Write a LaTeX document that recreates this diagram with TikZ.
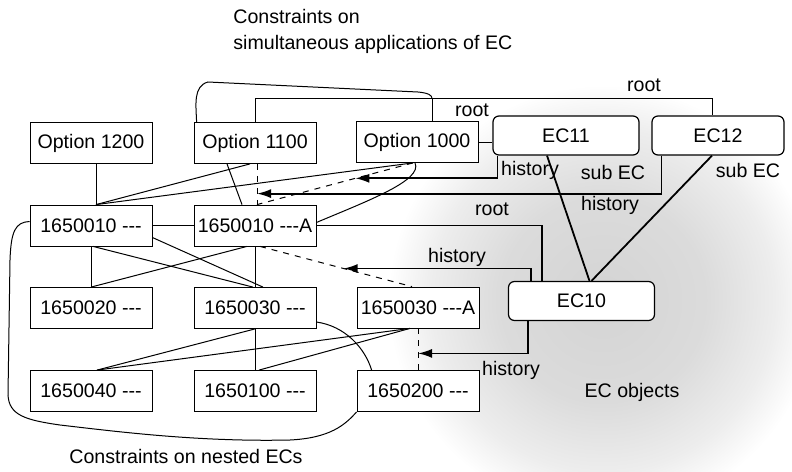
\documentclass[tikz,border=0pt]{standalone}
\usepackage{fontspec}
\setmainfont{Liberation Sans}
\usetikzlibrary{arrows.meta,calc}

\colorlet{fogA}{black!17}
\colorlet{fogB}{black!14}
\colorlet{fogC}{black!7}
\pgfdeclareradialshading{ecfog}{\pgfpoint{0bp}{0bp}}{color(0bp)=(fogA); color(12bp)=(fogB); color(20bp)=(fogC); color(25bp)=(white); color(50bp)=(white)}

\tikzset{
  part/.style={draw, fill=white, minimum width=61pt, minimum height=20.5pt, inner sep=1pt},
  ecobj/.style={draw, fill=white, rounded corners=3pt, minimum height=19.5pt, line width=0.6pt},
  link/.style={line width=0.5pt},
  eclink/.style={line width=0.9pt},
  hist/.style={eclink, -{Latex[length=7pt,width=4.5pt]}},
}

\begin{document}
\begin{tikzpicture}[x=0.5pt, y=-0.5pt, font=\fontsize{9.8}{13}\selectfont]
  \useasboundingbox (0,0) rectangle (792,471);
  % EC objects
  \shade[shading=ecfog] (603,300) circle (215);
  \node (ecobjs) at (632,392) {EC objects};

  % options and parts
  \node[part] (opt1200) at (91,143) {Option 1200};
  \node[part] (opt1100) at (255,143) {Option 1100};
  \node[part] (opt1000) at (417,142) {Option 1000};
  \node[part] (p10) at (91,225.5) {1650010 -{}-{}-};
  \node[part] (p10a) at (255,225.5) {1650010 -{}-{}-A};
  \node[part] (p20) at (91,308) {1650020 -{}-{}-};
  \node[part] (p30) at (255,308) {1650030 -{}-{}-};
  \node[part] (p30a) at (418,307.5) {1650030 -{}-{}-A};
  \node[part] (p40) at (91,391) {1650040 -{}-{}-};
  \node[part] (p100) at (255,391) {1650100 -{}-{}-};
  \node[part] (p200) at (418,391) {1650200 -{}-{}-};

  % ECs
  \node[ecobj, minimum width=73pt] (ec11) at (566,135.5) {EC11};
  \node[ecobj, minimum width=66pt] (ec12) at (718,135.5) {EC12};
  \node[ecobj, minimum width=73pt] (ec10) at (581.5,301) {EC10};

  % ends of the changed links
  \coordinate (a1) at ($(opt1100.south)+(2,0)$);
  \coordinate (a2) at ($(opt1000.south)+(-4,0)$);
  \coordinate (b1) at ($(p10a.north)+(2,0)$);
  \coordinate (b2) at ($(p10a.south)+(5,0)$);
  \coordinate (c1) at ($(p30a.north)+(-6,0)$);
  \coordinate (c2) at (p30a.south);
  \coordinate (d1) at (p200.north);
  \draw[link, dashed] (a1) -- (b1);
  \draw[link, dashed] (a2) -- (b1);
  \draw[link, dashed] (b2) -- (c1);
  \draw[link, dashed] (c2) -- (d1);

  % plain links
  \draw[link] ($(opt1200.south)+(5,0)$) -- ($(p10.north)+(5,0)$);
  \draw[link] ($(p10.north)+(5,0)$) -- ($(opt1100.south)+(-5,0)$);
  \draw[link] ($(p10.north)+(5,0)$) -- (a2);
  \draw[link] ($(opt1100.south)+(-28,0)$) -- ($(p10a.north)+(-13,0)$);
  \draw[link] (p10.east) -- (p10a.west);
  \draw[link] (p10.south) -- (p20.north);
  \draw[link] ($(p10.south)+(2,0)$) -- ($(p30.north)+(-2,0)$);
  \draw[link] ($(p10.east)+(0,12)$) -- ($(p30.north)+(8,0)$);
  \draw[link] ($(p10a.south)+(-8,0)$) -- (p20.north);
  \draw[link] (p10a.south) -- (p30.north);
  \draw[link] (p30.south) -- ($(p40.north)+(6,0)$);
  \draw[link] (p30.south) -- (p100.north);
  \draw[link] ($(p30a.south)+(-8,0)$) -- ($(p40.north)+(6,0)$);
  \draw[link] ($(p30a.south)+(-8,0)$) -- ($(p100.north)+(4,0)$);
  \draw[link] ($(p30.east)+(0,14)$) .. controls (345,326) and (365,348) .. ($(p200.north west)+(15,0)$);
  \draw[link] ($(opt1000.south)+(-2,0)$) .. controls (423,180) and (370,200) .. ($(p10a.east)+(0,-3)$);

  % root links
  \coordinate (r0) at ($(ec12.north)+(-6,-17)$);
  \coordinate (r1) at ($(opt1000.north)+(15,0)$);
  \draw[link] (opt1100.north) |- (r0) -- ($(ec12.north)+(-6,0)$);
  \draw[link] (r1) -- (r1 |- r0);
  \draw[link] (opt1000.east) -- (opt1000.east -| ec11.west);
  \draw[eclink] ($(ec10.north west)+(34,0)$) |- (p10a.east);
  \node at (644,85) {root};
  \node at (472,110) {root};
  \node at (492,209) {root};

  % sub EC
  \draw[eclink] ($(ec11.south)+(-19,0)$) -- ($(ec10.north)+(8,0)$);
  \draw[eclink] ($(ec12.south)+(-6,0)$) -- ($(ec10.north)+(10,0)$);
  \node at (613,172) {sub EC};
  \node at (748,170) {sub EC};

  % history
  \coordinate (h1) at ($(a1)!0.73!(b1)$);
  \coordinate (h2) at ($(a2)!0.37!(b1)$);
  \coordinate (h3) at ($(b2)!0.55!(c1)$);
  \coordinate (h4) at ($(c2)!0.6!(d1)$);
  \draw[hist] ($(ec11.south west)+(5,0)$) |- (h2);
  \draw[hist] ($(ec12.south west)+(10,0)$) |- (h1);
  \draw[hist] ($(ec10.north west)+(23,0)$) |- (h3);
  \draw[hist] ($(ec10.south west)+(20,0)$) |- (h4);
  \node at (530,170) {history};
  \node at (610,205) {history};
  \node at (457,257) {history};
  \node at (511,370) {history};

  % constraints
  \draw[link] ($(opt1100.north west)+(3,0)$) .. controls (196,105) and (193,86) .. (208,82)
    -- (418,92) .. controls (428,93) and (432,95) .. (r1 |- r0);
  \draw[link] ($(p10.west)+(0,-4)$) .. controls (15,222) and (11,232) .. (10,260) -- (8,395)
    .. controls (9,415) and (25,420) .. (60,425) .. controls (120,432) and (200,442) .. (290,440)
    .. controls (330,438) and (345,425) .. (p200.south west);
  \node[anchor=north west, align=left, inner sep=0pt] (csim) at (233,9) {Constraints on\\simultaneous applications of EC};
  \node (cnest) at (186,456) {Constraints on nested ECs};
\end{tikzpicture}
\end{document}
